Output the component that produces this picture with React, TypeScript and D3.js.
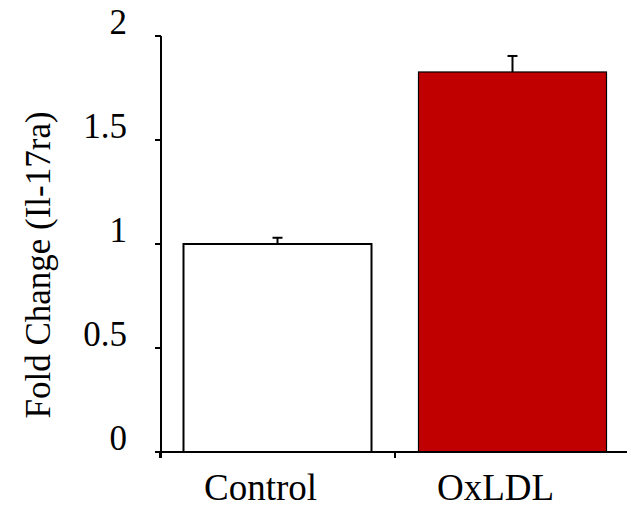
import { useRef, useEffect } from 'react';
import * as d3 from 'd3';

const categories = ['Control', 'OxLDL'];
const values = [1.0, 1.827];
const errors = [0.03, 0.077];
const barColors = ['#ffffff', '#c00000'];
const yTicks = [0, 0.5, 1, 1.5, 2];

export default function App() {
  const ref = useRef<SVGSVGElement>(null);

  useEffect(() => {
    if (!ref.current) return;
    const width = 627;
    const font = '"Liberation Serif", "Times New Roman", serif';

    const svg = d3.select(ref.current);
    svg.selectAll('*').remove();

    const x = d3.scaleBand<string>()
      .domain(categories)
      .range([160, 630])
      .paddingInner(0.2)
      .paddingOuter(0.1);
    const y = d3.scaleLinear().domain([0, 2]).range([452, 36]);
    const step = x.step();
    const x0 = 160;

    // bars
    svg.selectAll('rect.bar')
      .data(categories)
      .enter()
      .append('rect')
      .attr('class', 'bar')
      .attr('x', (d) => x(d)!)
      .attr('y', (d, i) => y(values[i]))
      .attr('width', x.bandwidth())
      .attr('height', (d, i) => y(0) - y(values[i]))
      .attr('fill', (d, i) => barColors[i])
      .attr('stroke', '#000')
      .attr('stroke-width', (d, i) => (i === 0 ? 2 : 1.2));

    // error bars (upper only)
    categories.forEach((c, i) => {
      const cx = x(c)! + x.bandwidth() / 2;
      const top = y(values[i] + errors[i]);
      svg.append('line')
        .attr('x1', cx).attr('x2', cx)
        .attr('y1', y(values[i])).attr('y2', top)
        .attr('stroke', '#000').attr('stroke-width', 2);
      svg.append('line')
        .attr('x1', cx - 5).attr('x2', cx + 5)
        .attr('y1', top).attr('y2', top)
        .attr('stroke', '#000').attr('stroke-width', 2);
    });

    // y axis
    svg.append('line')
      .attr('x1', x0 + 1).attr('x2', x0 + 1)
      .attr('y1', y(2)).attr('y2', y(0) + 6)
      .attr('stroke', '#000').attr('stroke-width', 2);
    yTicks.forEach((t) => {
      svg.append('line')
        .attr('x1', x0 - 5).attr('x2', x0 + 1)
        .attr('y1', y(t)).attr('y2', y(t))
        .attr('stroke', '#000').attr('stroke-width', 2);
      svg.append('text')
        .attr('x', 127)
        .attr('y', y(t) - 2)
        .attr('text-anchor', 'end')
        .style('font-family', font)
        .style('font-size', '35px')
        .text(String(t));
    });

    // x axis
    svg.append('line')
      .attr('x1', x0 - 5).attr('x2', width)
      .attr('y1', y(0)).attr('y2', y(0))
      .attr('stroke', '#000').attr('stroke-width', 2);
    [0, 1, 2].forEach((k) => {
      const tx = x0 + k * step;
      svg.append('line')
        .attr('x1', tx).attr('x2', tx)
        .attr('y1', y(0)).attr('y2', y(0) + 6)
        .attr('stroke', '#000').attr('stroke-width', 2);
    });
    categories.forEach((c) => {
      svg.append('text')
        .attr('x', x(c)! + x.bandwidth() / 2 - 17)
        .attr('y', 500)
        .attr('text-anchor', 'middle')
        .style('font-family', font)
        .style('font-size', '37px')
        .text(c);
    });

    // y title
    svg.append('text')
      .attr('transform', `translate(50, 265) rotate(-90)`)
      .attr('text-anchor', 'middle')
      .style('font-family', font)
      .style('font-size', '35px')
      .text('Fold Change (Il-17ra)');
  }, []);

  return (
    <svg
      ref={ref}
      width={627}
      height={508}
      style={{ position: 'absolute', left: 0, top: 0, background: '#fff' }}
    />
  );
}
